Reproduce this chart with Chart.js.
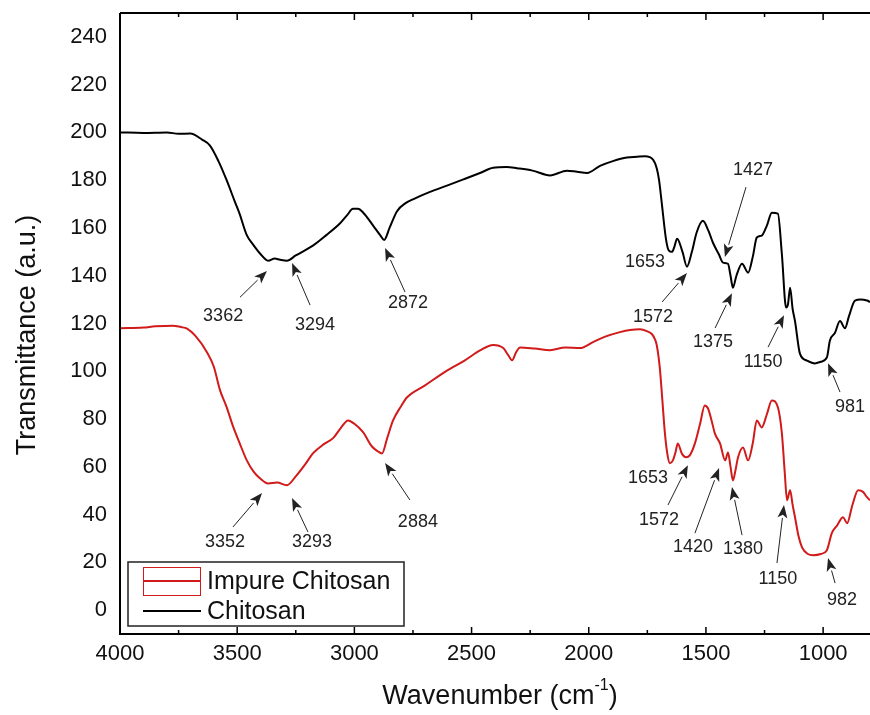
<!DOCTYPE html>
<html>
<head>
<meta charset="utf-8">
<script src="https://cdn.jsdelivr.net/npm/chart.js@4.4.1/dist/chart.umd.min.js"></script>
<style>
  html, body { margin: 0; padding: 0; background: #fff; }
</style>
</head>
<body>
<canvas id="ftirChart" width="870" height="715"></canvas>
<script>
const yTicks = [0, 20, 40, 60, 80, 100, 120, 140, 160, 180, 200, 220, 240];
const xTicks = [4000, 3500, 3000, 2500, 2000, 1500, 1000];
const xMinorTicks = [3750, 3250, 2750, 2250, 1750, 1250];

const seriesNames = ["Impure Chitosan", "Chitosan"];

const chitosanWn = [4000, 3900, 3800, 3750, 3700, 3650, 3616, 3580, 3545, 3510, 3490, 3459, 3432, 3400, 3368, 3340, 3317, 3288, 3250, 3177, 3120, 3061, 3030, 3006, 2985, 2963, 2920, 2890, 2873, 2850, 2818, 2780, 2750, 2680, 2605, 2530, 2464, 2408, 2350, 2306, 2240, 2165, 2093, 2050, 2007, 1952, 1897, 1837, 1794, 1760, 1725, 1710, 1700, 1688, 1670, 1658, 1645, 1635, 1623, 1600, 1581, 1560, 1540, 1513, 1490, 1470, 1445, 1427, 1406, 1395, 1385, 1370, 1346, 1320, 1300, 1283, 1262, 1240, 1219, 1193, 1176, 1158, 1150, 1141, 1130, 1120, 1099, 1069, 1035, 1010, 984, 971, 950, 928, 907, 890, 864, 840, 813, 800];
const chitosanT = [200, 199.8, 200, 199.4, 199.5, 197, 194.5, 188, 180, 171, 166, 157, 153, 149, 146.3, 147.2, 146.7, 146.3, 148.5, 152.6, 157, 162, 165.5, 168, 168, 166.5, 161, 157, 155, 160, 167, 170.5, 172, 175, 177.7, 180.5, 183, 185.2, 185.5, 185, 184, 182, 184, 183.5, 183, 186, 188, 189.5, 189.8, 190, 188.5, 185, 180, 170, 155, 150.5, 150, 152, 155.5, 150, 143.8, 150, 158, 163, 159, 153.8, 149, 145.5, 145, 140, 135, 140, 145, 141.3, 148, 156, 156.8, 161, 166.4, 166, 149, 126.7, 128, 135, 126, 121, 107.4, 104.5, 103.3, 104, 105.8, 112.9, 116, 121, 118, 123, 129.6, 130, 129.6, 129];

const impureWn = [4000, 3900, 3850, 3774, 3740, 3714, 3680, 3629, 3600, 3573, 3545, 3518, 3490, 3459, 3430, 3403, 3368, 3330, 3288, 3250, 3210, 3177, 3130, 3091, 3060, 3027, 3000, 2963, 2925, 2900, 2882, 2860, 2835, 2800, 2776, 2700, 2605, 2530, 2464, 2408, 2365, 2345, 2327, 2310, 2293, 2230, 2165, 2100, 2037, 1982, 1930, 1867, 1824, 1781, 1752, 1730, 1718, 1710, 1697, 1686, 1675, 1664, 1654, 1641, 1630, 1620, 1603, 1585, 1569, 1547, 1525, 1505, 1491, 1475, 1462, 1440, 1418, 1406, 1395, 1385, 1375, 1363, 1342, 1320, 1300, 1283, 1262, 1240, 1219, 1193, 1176, 1164, 1154, 1141, 1130, 1120, 1105, 1090, 1065, 1043, 1010, 984, 963, 940, 915, 898, 875, 851, 830, 815, 800];
const impureT = [118, 118.3, 118.8, 119.1, 118.5, 117.9, 115, 108, 102, 92, 85, 77, 70, 62.7, 58, 55.2, 53, 53.4, 52.3, 56, 61, 65.6, 69.5, 72, 76, 79.4, 78, 74.5, 68.5, 66.5, 65.6, 72, 79.4, 85.5, 89, 94, 100.3, 104.5, 108.7, 111, 109.7, 107, 104.6, 108, 110, 109.5, 108.8, 110, 109.7, 112.2, 114.5, 116.4, 117.3, 117.6, 116.8, 115.5, 113.5, 111, 101.6, 88, 74, 65, 61.5, 62.7, 66, 69.8, 65.6, 64, 64.8, 69.8, 78, 85.7, 84.4, 79, 74, 69.8, 62.7, 66, 60, 54.3, 58, 64, 68.1, 62.7, 70, 79.4, 76.5, 82, 87.8, 84.9, 74, 58, 46, 50.2, 44, 38.9, 31, 26.3, 23.5, 23, 23.5, 25.1, 32.2, 35.5, 38.9, 36.4, 44, 50.2, 49.5, 47.5, 46];

// peak labels: text centre, arrow tail and arrow tip, all in chart units
const peakNotes = [
  { text: "3362", at: [3560, 123], tail: [3488, 131], tip: [3373, 142] },
  { text: "3294", at: [3168, 119.3], tail: [3189, 127.7], tip: [3266, 145.3] },
  { text: "2872", at: [2771, 128.6], tail: [2784, 133.2], tip: [2869, 151.6] },
  { text: "1653", at: [1760, 145.7] },
  { text: "1572", at: [1726, 122.7], tail: [1687, 129], tip: [1581, 141.1] },
  { text: "1427", at: [1299, 184.3], tail: [1329, 177.1], tip: [1419, 147.8] },
  { text: "1375", at: [1470, 112.2], tail: [1461, 118.1], tip: [1389, 132.7] },
  { text: "1150", at: [1256, 103.9], tail: [1235, 110.1], tip: [1167, 123.5] },
  { text: "981", at: [885, 85], tail: [928, 91.3], tip: [979, 103.4] },
  { text: "3352", at: [3552, 28.5], tail: [3518, 34.8], tip: [3394, 49] },
  { text: "3293", at: [3181, 28.5], tail: [3198, 32.7], tip: [3266, 46.9] },
  { text: "2884", at: [2729, 36.9], tail: [2763, 46.1], tip: [2869, 61.6] },
  { text: "1653", at: [1747, 55.3] },
  { text: "1572", at: [1700, 37.7], tail: [1662, 44], tip: [1577, 60.7] },
  { text: "1420", at: [1555, 26.4], tail: [1547, 32.2], tip: [1444, 59.5] },
  { text: "1380", at: [1342, 25.5], tail: [1346, 31.4], tip: [1389, 51.5] },
  { text: "1150", at: [1193, 13], tail: [1197, 19.7], tip: [1167, 44] },
  { text: "982", at: [919, 4.2], tail: [949, 11.3], tip: [979, 21.8] }
];

const RED = "#d11a1a";
const FONT = "Arial, 'Liberation Sans', sans-serif";

function toPoints(xs, ys) {
  return xs.map((x, i) => ({ x, y: ys[i] }));
}

const framePlugin = {
  id: "frame",
  afterDraw(chart) {
    const { ctx, chartArea: a, scales } = chart;
    const xs = scales.x, ys = scales.y;
    ctx.save();

    // axes frame (left, top, bottom)
    ctx.strokeStyle = "#000";
    ctx.lineWidth = 2;
    ctx.beginPath();
    ctx.moveTo(a.left, a.top);
    ctx.lineTo(a.right, a.top);
    ctx.moveTo(a.left, a.top);
    ctx.lineTo(a.left, a.bottom);
    ctx.lineTo(a.right, a.bottom);
    ctx.stroke();

    // inward ticks on top and bottom
    ctx.lineWidth = 1.5;
    ctx.beginPath();
    xTicks.forEach(v => {
      const px = xs.getPixelForValue(v);
      ctx.moveTo(px, a.bottom); ctx.lineTo(px, a.bottom - 7);
      ctx.moveTo(px, a.top); ctx.lineTo(px, a.top + 7);
    });
    xMinorTicks.forEach(v => {
      const px = xs.getPixelForValue(v);
      ctx.moveTo(px, a.bottom); ctx.lineTo(px, a.bottom - 4);
      ctx.moveTo(px, a.top); ctx.lineTo(px, a.top + 4);
    });
    ctx.stroke();

    // peak notes
    ctx.font = "18px " + FONT;
    ctx.fillStyle = "#222";
    ctx.textAlign = "center";
    ctx.textBaseline = "middle";
    peakNotes.forEach(n => {
      ctx.fillText(n.text, xs.getPixelForValue(n.at[0]), ys.getPixelForValue(n.at[1]));
      if (!n.tip) return;
      const x0 = xs.getPixelForValue(n.tail[0]), y0 = ys.getPixelForValue(n.tail[1]);
      const x1 = xs.getPixelForValue(n.tip[0]), y1 = ys.getPixelForValue(n.tip[1]);
      const ang = Math.atan2(y1 - y0, x1 - x0);
      const hl = 13, hw = 5;
      ctx.strokeStyle = "#222";
      ctx.lineWidth = 1;
      ctx.beginPath();
      ctx.moveTo(x0, y0);
      ctx.lineTo(x1 - Math.cos(ang) * hl, y1 - Math.sin(ang) * hl);
      ctx.stroke();
      ctx.beginPath();
      ctx.moveTo(x1, y1);
      ctx.lineTo(x1 - Math.cos(ang) * hl - Math.sin(ang) * hw, y1 - Math.sin(ang) * hl + Math.cos(ang) * hw);
      ctx.lineTo(x1 - Math.cos(ang) * hl * 0.75, y1 - Math.sin(ang) * hl * 0.75);
      ctx.lineTo(x1 - Math.cos(ang) * hl + Math.sin(ang) * hw, y1 - Math.sin(ang) * hl - Math.cos(ang) * hw);
      ctx.closePath();
      ctx.fill();
    });

    // legend
    ctx.strokeStyle = "#222";
    ctx.lineWidth = 1.5;
    ctx.strokeRect(128, 562, 276, 64);
    ctx.strokeStyle = RED;
    ctx.lineWidth = 1;
    ctx.strokeRect(143.5, 567.5, 57, 28);
    ctx.lineWidth = 2;
    ctx.beginPath();
    ctx.moveTo(143, 581); ctx.lineTo(201, 581);
    ctx.stroke();
    ctx.strokeStyle = "#000";
    ctx.beginPath();
    ctx.moveTo(143, 611); ctx.lineTo(201, 611);
    ctx.stroke();
    ctx.fillStyle = "#111";
    ctx.font = "25px " + FONT;
    ctx.textAlign = "left";
    ctx.fillText(seriesNames[0], 207, 582);
    ctx.fillText(seriesNames[1], 207, 612);

    // axis titles
    ctx.font = "27px " + FONT;
    ctx.textAlign = "center";
    ctx.fillStyle = "#111";
    ctx.save();
    ctx.translate(28, 335);
    ctx.rotate(-Math.PI / 2);
    ctx.fillText("Transmittance (a.u.)", 0, 0);
    ctx.restore();

    const main = "Wavenumber (cm";
    const sup = "-1";
    const close = ")";
    ctx.font = "27px " + FONT;
    const wMain = ctx.measureText(main).width;
    const wClose = ctx.measureText(close).width;
    ctx.font = "16px " + FONT;
    const wSup = ctx.measureText(sup).width;
    let x = 500 - (wMain + wSup + wClose) / 2;
    ctx.textAlign = "left";
    ctx.font = "27px " + FONT;
    ctx.fillText(main, x, 697);
    x += wMain;
    ctx.font = "16px " + FONT;
    ctx.fillText(sup, x, 686);
    x += wSup;
    ctx.font = "27px " + FONT;
    ctx.fillText(close, x, 697);

    ctx.restore();
  }
};

new Chart(document.getElementById("ftirChart"), {
  type: "line",
  data: {
    datasets: [
      {
        label: seriesNames[1],
        data: toPoints(chitosanWn, chitosanT),
        borderColor: "#000",
        borderWidth: 2,
        pointRadius: 0,
        tension: 0.4,
        cubicInterpolationMode: "monotone",
        fill: false
      },
      {
        label: seriesNames[0],
        data: toPoints(impureWn, impureT),
        borderColor: RED,
        borderWidth: 2,
        pointRadius: 0,
        tension: 0.4,
        cubicInterpolationMode: "monotone",
        fill: false
      }
    ]
  },
  options: {
    responsive: false,
    animation: false,
    devicePixelRatio: 1,
    layout: { padding: 0 },
    plugins: {
      legend: { display: false },
      tooltip: { enabled: false }
    },
    scales: {
      x: {
        type: "linear",
        reverse: true,
        min: 800,
        max: 4000,
        grid: { display: false, drawTicks: false },
        border: { display: false },
        afterBuildTicks(scale) {
          scale.ticks = xTicks.map(v => ({ value: v }));
        },
        afterFit(scale) {
          scale.height = 81;
          scale.paddingLeft = 0;
          scale.paddingRight = 0;
        },
        ticks: {
          padding: 7,
          color: "#111",
          font: { family: FONT, size: 22 },
          maxRotation: 0,
          autoSkip: false,
          callback: v => String(v)
        }
      },
      y: {
        min: -10,
        max: 250,
        grid: { display: false, drawTicks: false },
        border: { display: false },
        afterBuildTicks(scale) {
          scale.ticks = yTicks.map(v => ({ value: v }));
        },
        afterFit(scale) {
          scale.width = 120;
          scale.paddingTop = 13;
          scale.paddingBottom = 0;
        },
        ticks: {
          padding: 13,
          color: "#111",
          font: { family: FONT, size: 22 },
          autoSkip: false,
          callback: v => String(v)
        }
      }
    }
  },
  plugins: [framePlugin]
});
</script>
</body>
</html>
